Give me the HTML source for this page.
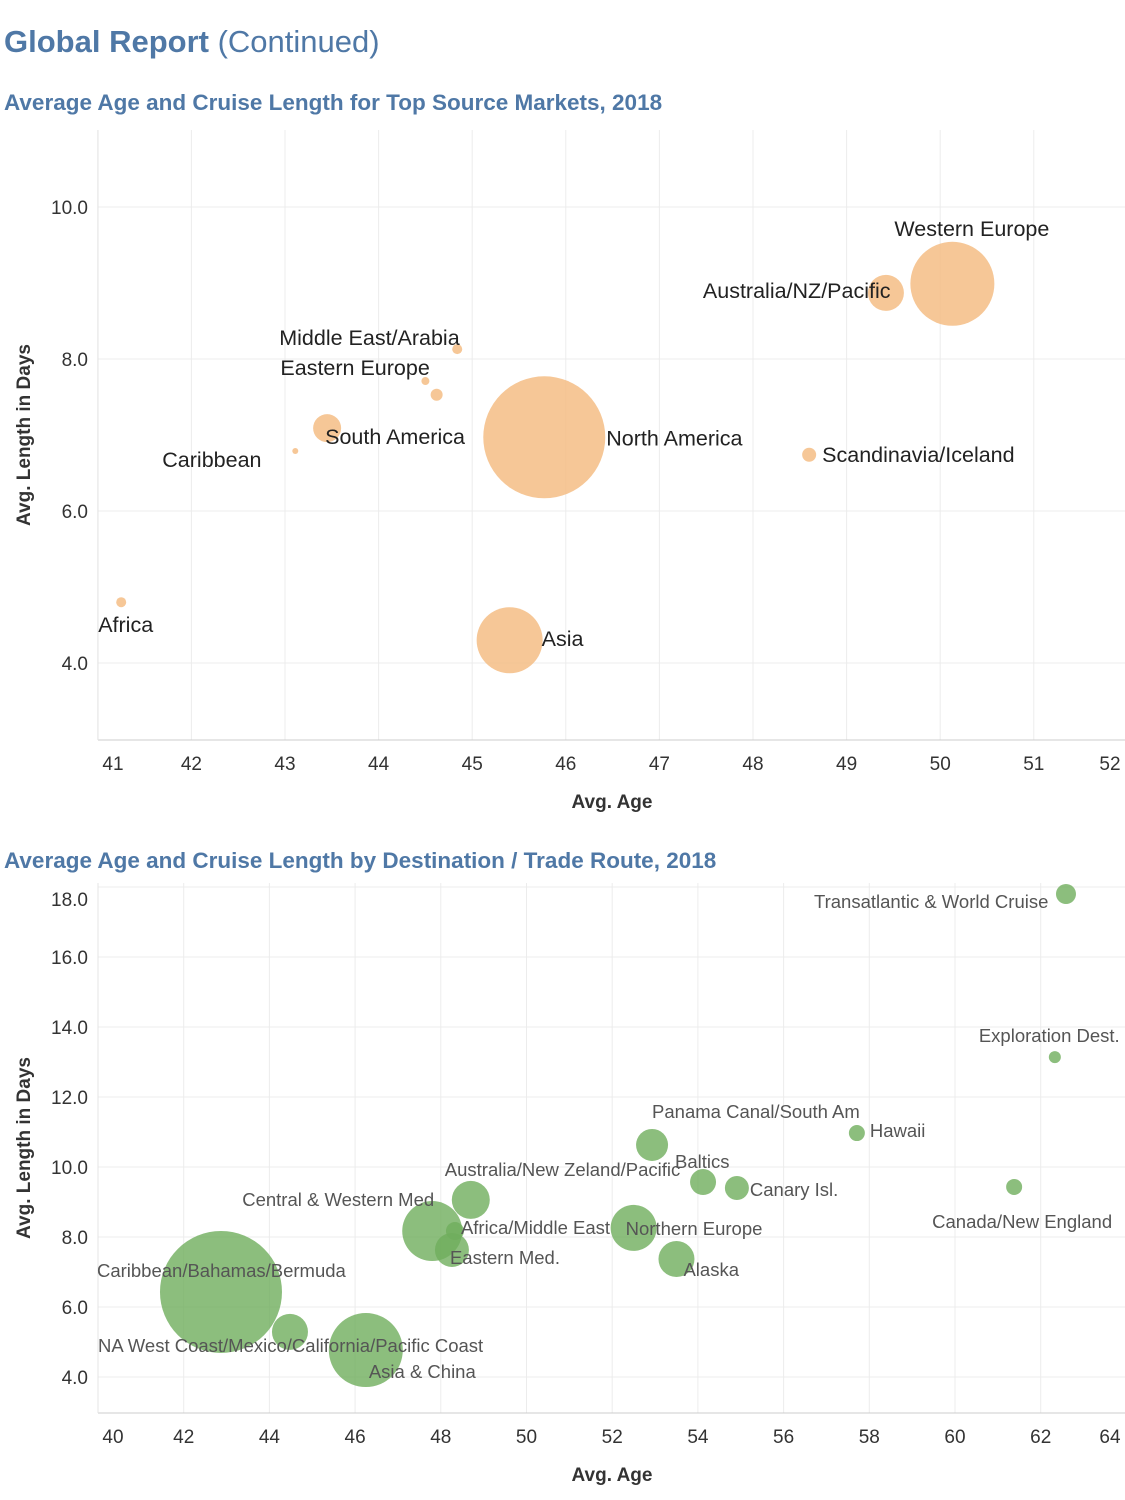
<!DOCTYPE html>
<html><head><meta charset="utf-8"><style>
html,body{margin:0;padding:0;background:#fff;}
svg{display:block;font-family:"Liberation Sans",sans-serif;}
</style></head><body>
<svg id="s" width="1125" height="1500" xmlns="http://www.w3.org/2000/svg">
<text x="4" y="52" font-size="31" fill="#4f78a6"><tspan font-weight="bold">Global Report</tspan> (Continued)</text>
<text x="4" y="110" font-size="22.5" font-weight="bold" fill="#4f78a6">Average Age and Cruise Length for Top Source Markets, 2018</text>
<text x="4" y="868" font-size="22.5" font-weight="bold" fill="#4f78a6">Average Age and Cruise Length by Destination / Trade Route, 2018</text>
<g id="c1"></g>
<g id="c2"></g>
</svg>
<script>
// Chart 1 data
const c1Names=["Western Europe","Australia/NZ/Pacific","Middle East/Arabia","Eastern Europe","Other Europe","South America","Caribbean","North America","Scandinavia/Iceland","Africa","Asia"];
const c1Age=[50.13,49.42,44.84,44.50,44.62,43.45,43.11,45.77,48.60,41.25,45.40];
const c1Len=[8.99,8.87,8.13,7.71,7.53,7.09,6.79,6.97,6.74,4.80,4.30];
const c1Size=[42,18,5,4,6,14,3,61,7,5,33];
const c1XTicks=[41,42,43,44,45,46,47,48,49,50,51,52];
const c1YTicks=[4,6,8,10];
// label offsets from bubble centre (layout)
const c1Lab=[[-58,-48,"start"],[-183,5,"start"],[-178,-4,"start"],[-145,-6,"start"],[0,0,"none"],[-2,16,"start"],[-133,16,"start"],[62,8,"start"],[13,7,"start"],[-23,30,"start"],[32,6,"start"]];

// Chart 2 data
const c2Names=["Transatlantic & World Cruise","Exploration Dest.","Hawaii","Panama Canal/South Am","Baltics","Canary Isl.","Canada/New England","Australia/New Zeland/Pacific","Central & Western Med","Africa/Middle East","Eastern Med.","Northern Europe","Alaska","Caribbean/Bahamas/Bermuda","NA West Coast/Mexico/California/Pacific Coast","Asia & China"];
const c2Age=[62.59,62.33,57.71,52.93,54.12,54.91,61.38,48.70,47.80,48.33,48.26,52.50,53.50,42.87,44.48,46.25];
const c2Len=[17.8,13.14,10.97,10.63,9.57,9.40,9.43,9.06,8.17,8.17,7.63,8.26,7.37,6.43,5.29,4.77];
const c2Size=[10,6,8,16,13,12,8,19,30,9,17,23,18,61,18,37];
const c2XTicks=[40,42,44,46,48,50,52,54,56,58,60,62,64];
const c2YTicks=[4,6,8,10,12,14,16,18];
const c2Lab=[[-252,14,"start"],[-76,-15,"start"],[13,4,"start"],[0,-27,"start"],[-28,-14,"start"],[13,8,"start"],[-82,41,"start"],[-26,-24,"start"],[-190,-25,"start"],[6,3,"start"],[-2,14,"start"],[-8,7,"start"],[7,17,"start"],[-124,-15,"start"],[-192,20,"start"],[3,28,"start"]];

const NS="http://www.w3.org/2000/svg";
function mk(p,t,a){const e=document.createElementNS(NS,t);for(const k in a)e.setAttribute(k,a[k]);p.appendChild(e);return e;}

function chart(g,o){
  const xs=v=>o.x0+(v-o.xmin)*o.xk, ys=v=>o.y0-(v-o.ymin)*o.yk;
  const left=o.left,right=1125,top=o.top,bot=o.bot;
  o.xt.forEach(t=>{const l=mk(g,"line",{x1:xs(t),x2:xs(t),y1:top,y2:bot,stroke:"#ececec","stroke-width":1});
    
    
    let lx=xs(t);if(lx<left+15)lx=left+15;if(lx>1110)lx=1110;
    const tx=mk(g,"text",{x:lx,y:bot+30,"font-size":19,"text-anchor":"middle",fill:"#333"});tx.textContent=t;
    
    });
  o.yt.forEach(t=>{const l=mk(g,"line",{x1:left,x2:right,y1:ys(t),y2:ys(t),stroke:"#ececec","stroke-width":1});
    
    
    let ly=ys(t);if(ly<top+16)ly=top+16;
    const tx=mk(g,"text",{x:88,y:ly+7,"font-size":19,"text-anchor":"end",fill:"#333"});tx.textContent=t.toFixed(1);
    
    });
  const ax=mk(g,"line",{x1:left,x2:right,y1:bot,y2:bot,stroke:"#ccc"});
  
  
  const ay=mk(g,"line",{x1:left,x2:left,y1:top,y2:bot,stroke:"#e4e4e4"});
  
  
  const xt=mk(g,"text",{x:612,y:bot+68,"font-size":19,"font-weight":"bold","text-anchor":"middle",fill:"#333"});xt.textContent="Avg. Age";
  
  
  const cy=(top+bot)/2;
  const yt=mk(g,"text",{x:30,y:cy,"font-size":19,"font-weight":"bold","text-anchor":"middle",fill:"#333",transform:`rotate(-90 30 ${cy})`});yt.textContent="Avg. Length in Days";
  
  
  const order=o.names.map((_,i)=>i).sort((a,b)=>o.size[b]-o.size[a]);
  order.forEach(i=>{const c=mk(g,"circle",{cx:xs(o.age[i]),cy:ys(o.len[i]),r:o.size[i],fill:o.col,"fill-opacity":o.op});
    
    });
  o.names.forEach((n,i)=>{const L=o.lab[i];if(L[2]==="none")return;
    const t=mk(g,"text",{x:xs(o.age[i])+L[0],y:ys(o.len[i])+L[1],"font-size":o.fs,fill:o.tc});t.textContent=n;
    
    });
}
chart(document.getElementById("c1"),{names:c1Names,age:c1Age,len:c1Len,size:c1Size,lab:c1Lab,xt:c1XTicks,yt:c1YTicks,
  xmin:43,x0:285,xk:93.6,ymin:4,y0:663,yk:76,left:98,top:130,bot:740,col:"#f5bd85",op:0.85,fs:21.5,tc:"#222"});
chart(document.getElementById("c2"),{names:c2Names,age:c2Age,len:c2Len,size:c2Size,lab:c2Lab,xt:c2XTicks,yt:c2YTicks,
  xmin:40,x0:98,xk:42.85,ymin:4,y0:1377,yk:35,left:98,top:883,bot:1413,col:"#6fae5c",op:0.8,fs:18.5,tc:"#555"});
</script>
</body></html>
